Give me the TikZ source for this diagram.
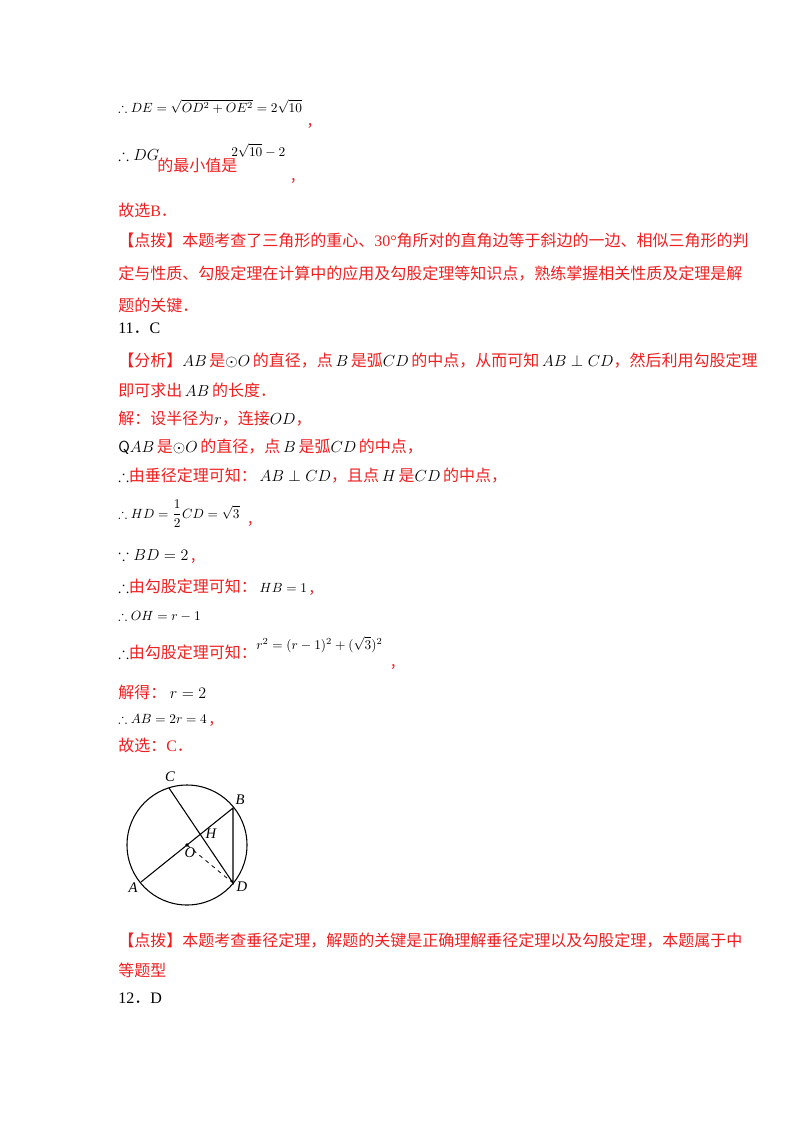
\documentclass[tikz,border=0pt]{standalone}
\usepackage{amsmath,amssymb}
\usepackage{fontspec}
\setmainfont{Noto Sans CJK SC}
\newfontfamily\lat{Liberation Serif}
\definecolor{rd}{rgb}{0.93,0.12,0.12}
\newcommand{\m}[1]{{\fontsize{12}{14}\selectfont\color{black}$#1$}}
\newcommand{\ms}[1]{{\fontsize{10}{12}\selectfont\color{black}$#1$}}
\begin{document}
\begin{tikzpicture}[x=0.75pt,y=-0.75pt,
  tl/.style={anchor=base west,inner sep=0pt,font=\fontsize{12}{15}\selectfont,text=rd},
  lb/.style={inner sep=0pt,font=\lat\itshape\fontsize{11}{13}\selectfont}]
\useasboundingbox (0,0) rectangle (800,1132);
\node[tl] (l1) at (118,112) {\ms{\therefore DE=\sqrt{OD^2+OE^2}=2\sqrt{10}}};
\node[tl] (c1) at ([xshift=4,yshift=-10]l1.base east) {,};
\node[tl] (l2) at (118,160) {\m{\therefore DG}};
\node[tl] (l2b) at (157,171) {的最小值是};
\node[tl] (l2c) at (231,156) {\ms{2\sqrt{10}-2}};
\node[tl] (c2) at ([xshift=4,yshift=-18]l2c.base east) {,};
\node[tl] (l3) at (118,216) {故选{\lat B}．};
\node[tl] (l4) at (118,246) {【点拨】本题考查了三角形的重心、{\lat 30°}角所对的直角边等于斜边的一边、相似三角形的判};
\node[tl] (l5) at (118,279) {定与性质、勾股定理在计算中的应用及勾股定理等知识点，熟练掌握相关性质及定理是解};
\node[tl] (l6) at (118,311) {题的关键．};
\node[tl,text=black] (l7) at (118,333) {{\lat 11}．{\lat C}};
\node[tl] (l8) at (118,366) {【分析】\m{AB}\,是\m{\odot O}\,的直径，点\,\m{B}\,是弧\m{CD}\,的中点，从而可知\,\m{AB\perp CD}，然后利用勾股定理};
\node[tl] (l9) at (118,396) {即可求出\,\m{AB}\,的长度．};
\node[tl] (l10) at (118,424) {解：设半径为\m{r}，连接\m{OD}，};
\node[tl] (l11) at (118,452) {{\color{black}\sffamily Q}\m{AB}\,是\m{\odot O}\,的直径，点\,\m{B}\,是弧\m{CD}\,的中点，};
\node[tl] (l12) at (118,481) {\m{\therefore}由垂径定理可知：\,\m{AB\perp CD}，且点\,\m{H}\,是\m{CD}\,的中点，};
\node[tl] (l13) at (118,518) {\ms{\therefore HD=\dfrac{1}{2}CD=\sqrt{3}}};
\node[tl] (c13) at ([xshift=6,yshift=-4]l13.base east) {,};
\node[tl] (l14) at (118,560) {\m{\because BD=2}\,,};
\node[tl] (l15) at (118,592) {\m{\therefore}由勾股定理可知：\,\ms{HB=1}\,,};
\node[tl] (l16) at (118,620) {\ms{\therefore OH=r-1}};
\node[tl] (l17) at (118,658) {\m{\therefore}由勾股定理可知：};
\node[tl] (l17b) at (256,649) {\ms{r^2=(r-1)^2+(\sqrt{3})^2}};
\node[tl] (c17) at ([xshift=6,yshift=-13]l17b.base east) {,};
\node[tl] (l18) at (118,698) {解得：\ \m{r=2}};
\node[tl] (l19) at (118,723) {\ms{\therefore AB=2r=4}\,,};
\node[tl] (l20) at (118,751) {故选：{\lat C}．};
% figure
\coordinate (O) at (187,845);
\draw[line width=0.8pt] (O) circle[radius=60];
\coordinate (C) at (169,788);
\coordinate (B) at (233,808);
\coordinate (D) at (233,883);
\coordinate (A) at (141,882);
\coordinate (H) at (199,836);
\draw[line width=0.8pt] (A) -- (B) -- (D) -- (C);
\draw[dashed,line width=0.6pt] (O) -- (D);
\fill (O) circle[radius=1.8];
\node[lb] (nC) at (170,777) {C};
\node[lb] (nB) at (240,800) {B};
\node[lb] (nH) at (211,834) {H};
\node[lb] (nO) at (190,853) {O};
\node[lb] (nA) at (133,888) {A};
\node[lb] (nD) at (242,887) {D};
\node[tl] (l21) at (118,946) {【点拨】本题考查垂径定理，解题的关键是正确理解垂径定理以及勾股定理，本题属于中};
\node[tl] (l22) at (118,976) {等题型};
\node[tl,text=black] (l23) at (118,1003) {{\lat 12}．{\lat D}};
\end{tikzpicture}
\end{document}
